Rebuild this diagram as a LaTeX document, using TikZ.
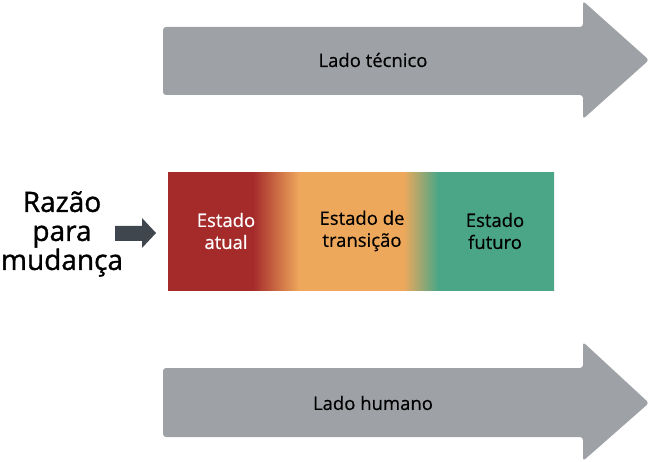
\documentclass[tikz,border=0pt]{standalone}
\usepackage{fontspec}
\setmainfont{Open Sans}
\newfontfamily\labelfont[FakeBold=0.5]{Open Sans}
\newfontfamily\razaofont[FakeBold=1.2]{Open Sans}
\definecolor{redst}{HTML}{A52A2A}
\definecolor{orangest}{HTML}{EEA85C}
\definecolor{greenst}{HTML}{4AA687}
\definecolor{arrowgray}{HTML}{9EA1A6}
\definecolor{arrowdark}{HTML}{3F464E}
\pgfdeclarehorizontalshading{statebar}{100bp}{color(0bp)=(redst); color(36bp)=(redst); color(42bp)=(orangest); color(55.5bp)=(orangest); color(60bp)=(greenst); color(100bp)=(greenst)}
\tikzset{
	sidearrow/.style={fill=arrowgray, rounded corners=3pt},
	label/.style={font=\labelfont\fontsize{18.5}{22}\selectfont, align=center},
}
\begin{document}
\begin{tikzpicture}[x=1pt,y=-1pt]
	\useasboundingbox (0,0) rectangle (650,462);
	% draw the big arrows
	\fill[sidearrow] (163,27) -- (583,27) -- (583,1) -- (649,60) -- (583,119) -- (583,95) -- (163,95) -- cycle;
	\fill[sidearrow] (163,368) -- (583,368) -- (583,342) -- (649,403) -- (583,461) -- (583,437) -- (163,437) -- cycle;
	\node[label] (tec) at (373,60) {Lado técnico};
	\node[label] (hum) at (373,403) {Lado humano};
	% draw the states (shaded bar)
	\fill[shading=statebar] (168,173) rectangle (554,290);
	\node[label, text=white] (atual) at (226,231) {Estado\\atual};
	\node[label] (trans) at (362,231) {Estado de\\transição};
	\node[label] (futuro) at (495,231) {Estado\\futuro};
	% reason for change
	\node[font=\razaofont\fontsize{28}{29}\selectfont, align=center] (razao) at (62,234) {Razão\\para\\mudança};
	\fill[arrowdark] (115,226) -- (142,226) -- (142,218) -- (156,233) -- (142,248) -- (142,241) -- (115,241) -- cycle;
\end{tikzpicture}
\end{document}
